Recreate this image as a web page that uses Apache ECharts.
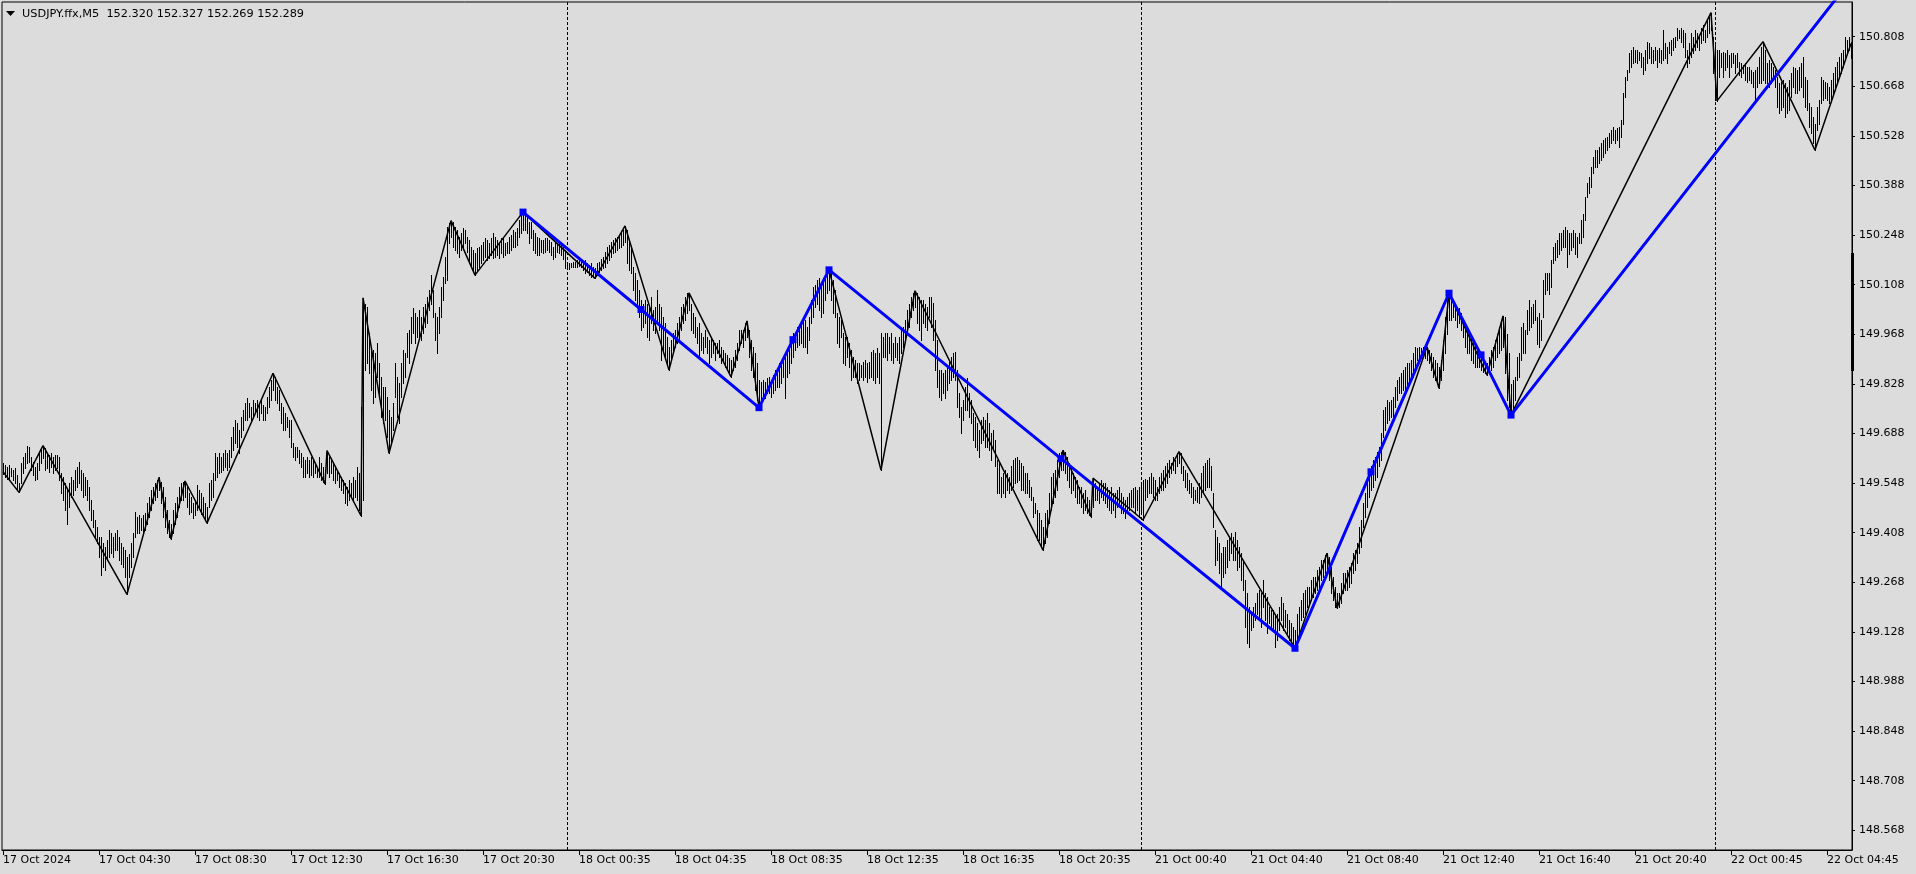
<!DOCTYPE html>
<html><head><meta charset="utf-8">
<script src="https://cdn.jsdelivr.net/npm/echarts@6/dist/echarts.min.js"></script>
<style>html,body{margin:0;padding:0;background:#DCDCDC;}#c{width:1916px;height:874px;}</style>
</head><body><div id="c"></div>
<script>
const symbolTitle = "USDJPY.ffx,M5";
const headerQuote = "152.320 152.327 152.269 152.289";
const timeLabels = ["17 Oct 2024","17 Oct 04:30","17 Oct 08:30","17 Oct 12:30","17 Oct 16:30","17 Oct 20:30",
  "18 Oct 00:35","18 Oct 04:35","18 Oct 08:35","18 Oct 12:35","18 Oct 16:35","18 Oct 20:35",
  "21 Oct 00:40","21 Oct 04:40","21 Oct 08:40","21 Oct 12:40","21 Oct 16:40","21 Oct 20:40",
  "22 Oct 00:45","22 Oct 04:45"];
const barsPerLabel = 48;
const priceTicks = [148.568,148.708,148.848,148.988,149.128,149.268,149.408,149.548,149.688,149.828,149.968,150.108,150.248,150.388,150.528,150.668,150.808];
const priceMin = 148.5125, priceMax = 150.906;
const daySeparators = [282, 569, 856];

const highs = [
149.604,149.598,149.594,149.599,149.590,149.585,149.590,149.570,149.548,149.604,
149.623,149.632,149.653,149.651,149.623,149.608,149.594,149.604,149.632,149.646,
149.654,149.646,149.632,149.627,149.632,149.623,149.627,149.627,149.623,149.576,
149.566,149.547,149.529,149.547,149.566,149.557,149.585,149.594,149.608,149.585,
149.576,149.566,149.557,149.538,149.500,149.472,149.444,149.425,149.397,149.397,
149.378,149.368,149.387,149.415,149.406,149.397,149.406,149.415,149.397,149.378,
149.368,149.359,149.340,149.349,149.378,149.406,149.467,149.453,149.458,149.449,
149.458,149.463,149.491,149.510,149.529,149.538,149.547,149.557,149.564,149.552,
149.538,149.510,149.472,149.444,149.434,149.472,149.491,149.510,149.538,149.547,
149.552,149.554,149.538,149.519,149.510,149.491,149.500,149.543,149.529,149.519,
149.510,149.491,149.482,149.547,149.557,149.576,149.632,149.623,149.632,149.623,
149.632,149.642,149.632,149.642,149.679,149.707,149.726,149.717,149.698,149.735,
149.754,149.773,149.787,149.773,149.764,149.782,149.773,149.782,149.773,149.782,
149.768,149.764,149.792,149.820,149.839,149.858,149.848,149.820,149.811,149.773,
149.764,149.745,149.735,149.726,149.726,149.660,149.651,149.651,149.642,149.632,
149.623,149.613,149.623,149.613,149.623,149.613,149.604,149.594,149.623,149.604,
149.594,149.585,149.640,149.623,149.613,149.604,149.594,149.585,149.576,149.566,
149.557,149.547,149.538,149.557,149.547,149.566,149.557,149.594,149.576,149.764,
150.071,150.055,150.046,149.971,149.933,149.924,149.914,149.943,149.886,149.848,
149.820,149.820,149.792,149.754,149.735,149.773,149.886,149.848,149.830,149.886,
149.924,149.914,149.971,149.980,150.018,150.041,150.027,150.018,150.036,150.018,
150.046,150.055,150.074,150.093,150.135,150.093,150.027,150.018,150.046,150.102,
150.131,150.187,150.272,150.281,150.289,150.286,150.272,150.262,150.244,150.253,
150.267,150.262,150.244,150.234,150.215,150.206,150.197,150.211,150.215,150.220,
150.230,150.239,150.234,150.225,150.239,150.253,150.244,150.234,150.230,150.239,
150.239,150.225,150.230,150.244,150.248,150.262,150.258,150.267,150.291,150.305,
150.313,150.310,150.300,150.286,150.286,150.262,150.253,150.244,150.239,150.234,
150.234,150.239,150.239,150.234,150.230,150.215,150.230,150.225,150.225,150.220,
150.215,150.206,150.173,150.168,150.170,150.173,150.173,150.178,150.180,150.178,
150.173,150.178,150.168,150.164,150.168,150.159,150.154,150.168,150.173,150.182,
150.187,150.201,150.215,150.220,150.230,150.234,150.239,150.244,150.248,150.253,
150.262,150.274,150.262,150.234,150.215,150.159,150.140,150.121,150.093,150.065,
150.055,150.065,150.055,150.046,150.074,150.036,150.046,150.093,150.055,150.046,
150.018,149.999,149.961,149.933,149.952,149.971,149.980,149.999,150.018,150.046,
150.055,150.074,150.084,150.085,150.055,150.027,150.018,149.990,149.999,149.971,
149.961,149.980,149.961,149.952,149.961,149.952,149.943,149.943,149.952,149.933,
149.924,149.914,149.910,149.900,149.896,149.905,149.924,149.943,149.980,149.980,
149.980,149.999,150.006,149.980,149.952,149.933,149.914,149.886,149.839,149.834,
149.839,149.834,149.844,149.848,149.839,149.853,149.867,149.872,149.886,149.896,
149.905,149.905,149.914,149.924,149.952,149.971,149.971,149.990,149.994,149.999,
150.004,150.008,149.990,150.018,150.065,150.102,150.107,150.121,150.126,150.102,
150.112,150.131,150.140,150.150,150.140,150.121,150.093,150.027,150.018,150.008,
149.971,149.961,149.961,149.943,149.924,149.905,149.896,149.886,149.886,149.881,
149.891,149.896,149.886,149.891,149.919,149.924,149.914,149.929,149.914,149.971,
149.961,149.971,149.971,149.961,149.971,149.943,149.961,149.943,149.961,149.980,
149.990,150.008,150.036,150.055,150.074,150.084,150.091,150.084,150.074,150.065,
150.065,150.055,150.046,150.074,150.074,150.056,150.008,149.952,149.867,149.867,
149.858,149.867,149.877,149.896,149.905,149.914,149.919,149.867,149.801,149.764,
149.783,149.820,149.844,149.801,149.783,149.745,149.736,149.717,149.698,149.726,
149.736,149.726,149.745,149.717,149.689,149.698,149.670,149.613,149.604,149.566,
149.576,149.585,149.576,149.566,149.595,149.613,149.618,149.623,149.613,149.604,
149.595,149.576,149.576,149.557,149.538,149.510,149.491,149.472,149.463,149.444,
149.425,149.463,149.472,149.519,149.566,149.576,149.585,149.613,149.632,149.637,
149.641,149.637,149.623,149.604,149.595,149.576,149.566,149.557,149.538,149.538,
149.519,149.529,149.510,149.500,149.491,149.562,149.547,149.538,149.547,149.557,
149.547,149.547,149.538,149.529,149.538,149.519,149.519,149.529,149.538,149.519,
149.510,149.500,149.510,149.519,149.529,149.533,149.538,149.529,149.538,149.552,
149.557,149.561,149.557,149.566,149.576,149.566,149.557,149.538,149.566,149.576,
149.585,149.595,149.604,149.613,149.604,149.623,149.613,149.632,149.637,149.632,
149.595,149.585,149.576,149.557,149.547,149.538,149.529,149.538,149.547,149.576,
149.595,149.604,149.613,149.618,149.595,149.519,149.416,149.397,149.378,149.350,
149.369,149.369,149.387,149.397,149.406,149.397,149.411,149.387,149.369,149.350,
149.331,149.275,149.237,149.199,149.180,149.199,149.209,149.237,149.246,149.237,
149.275,149.237,149.228,149.199,149.190,149.190,149.180,149.180,149.199,149.228,
149.209,149.190,149.180,149.162,149.152,149.143,149.133,149.180,149.199,149.218,
149.237,149.246,149.256,149.256,149.275,149.284,149.284,149.303,149.312,149.331,
149.331,149.345,149.350,149.340,149.312,149.284,149.256,149.237,149.237,149.265,
149.293,149.293,149.303,149.312,149.322,149.350,149.359,149.378,149.425,149.444,
149.491,149.519,149.557,149.576,149.595,149.613,149.623,149.637,149.651,149.689,
149.754,149.764,149.783,149.778,149.783,149.792,149.820,149.839,149.848,149.858,
149.867,149.877,149.886,149.886,149.895,149.914,149.933,149.928,149.933,149.930,
149.933,149.928,149.933,149.923,149.914,149.905,149.895,149.886,149.877,149.895,
149.952,150.018,150.065,150.088,150.074,150.065,150.055,150.046,150.041,150.027,
150.008,149.999,149.989,149.970,149.961,149.952,149.942,149.933,149.923,149.914,
149.905,149.891,149.886,149.905,149.923,149.933,149.952,149.970,149.989,150.008,
150.020,150.018,149.970,149.914,149.829,149.839,149.848,149.905,149.914,149.989,
149.999,149.980,150.036,150.065,150.046,150.055,150.065,150.018,150.027,150.008,
150.121,150.140,150.140,150.140,150.178,150.215,150.225,150.234,150.253,150.253,
150.262,150.272,150.262,150.253,150.253,150.262,150.253,150.244,150.253,150.290,
150.309,150.356,150.394,150.413,150.441,150.469,150.488,150.488,150.498,150.507,
150.516,150.521,150.526,150.535,150.545,150.554,150.545,150.549,150.554,150.573,
150.648,150.695,150.714,150.761,150.770,150.780,150.770,150.770,150.766,150.761,
150.752,150.770,150.794,150.789,150.780,150.770,150.780,150.770,150.775,150.770,
150.827,150.789,150.780,150.794,150.799,150.803,150.808,150.832,150.827,150.832,
150.827,150.818,150.770,150.789,150.818,150.808,150.827,150.818,150.808,150.832,
150.841,150.827,150.855,150.865,150.876,150.808,150.789,150.770,150.770,150.761,
150.766,150.761,150.770,150.756,150.761,150.761,150.756,150.761,150.737,150.733,
150.728,150.733,150.723,150.723,150.714,150.709,150.714,150.723,150.752,150.780,
150.794,150.770,150.733,150.742,150.733,150.723,150.714,150.695,150.676,150.681,
150.686,150.676,150.667,150.686,150.705,150.723,150.719,150.714,150.723,150.733,
150.752,150.695,150.686,150.620,150.610,150.582,150.563,150.610,150.629,150.695,
150.686,150.681,150.676,150.667,150.686,150.705,150.723,150.737,150.752,150.761,
150.770,150.808,150.799,150.808,150.794
];
const lows = [
149.575,149.566,149.560,149.557,149.567,149.557,149.548,149.530,149.522,149.547,
149.576,149.590,149.604,149.608,149.585,149.571,149.557,149.561,149.585,149.604,
149.618,149.585,149.590,149.580,149.594,149.576,149.585,149.590,149.557,149.519,
149.500,149.472,149.434,149.482,149.510,149.514,149.529,149.538,149.547,149.529,
149.510,149.514,149.500,149.472,149.444,149.425,149.397,149.378,149.340,149.289,
149.312,149.303,149.331,149.340,149.350,149.340,149.359,149.359,149.331,149.321,
149.312,149.284,149.234,149.284,149.312,149.340,149.397,149.406,149.406,149.415,
149.411,149.415,149.434,149.453,149.472,149.491,149.500,149.510,149.529,149.491,
149.453,149.425,149.406,149.397,149.390,149.406,149.434,149.453,149.482,149.500,
149.500,149.510,149.482,149.462,149.467,149.449,149.458,149.472,149.477,149.462,
149.458,149.444,149.435,149.482,149.500,149.510,149.557,149.566,149.576,149.580,
149.585,149.594,149.585,149.594,149.623,149.642,149.660,149.651,149.632,149.679,
149.698,149.726,149.726,149.735,149.726,149.735,149.745,149.735,149.726,149.745,
149.726,149.726,149.745,149.764,149.782,149.811,149.783,149.773,149.754,149.717,
149.698,149.698,149.707,149.679,149.651,149.623,149.613,149.623,149.604,149.594,
149.566,149.566,149.576,149.566,149.571,149.566,149.576,149.566,149.566,149.557,
149.552,149.546,149.576,149.566,149.576,149.557,149.547,149.557,149.538,149.529,
149.519,149.491,149.486,149.500,149.510,149.500,149.510,149.500,149.472,149.456,
149.500,149.867,149.886,149.858,149.811,149.773,149.792,149.848,149.792,149.736,
149.717,149.726,149.679,149.632,149.660,149.698,149.792,149.735,149.717,149.792,
149.830,149.848,149.905,149.886,149.943,149.971,149.943,149.961,149.961,149.952,
149.971,149.990,149.999,150.036,150.055,150.018,149.952,149.914,149.971,150.018,
150.065,150.112,150.121,150.225,150.244,150.215,150.206,150.197,150.187,150.206,
150.215,150.225,150.201,150.178,150.159,150.150,150.135,150.150,150.159,150.168,
150.178,150.187,150.178,150.183,150.192,150.183,150.187,150.192,150.183,150.197,
150.187,150.192,150.197,150.197,150.206,150.215,150.215,150.220,150.244,150.253,
150.262,150.262,150.253,150.225,150.239,150.206,150.197,150.192,150.192,150.201,
150.197,150.201,150.206,150.201,150.192,150.182,150.187,150.201,150.197,150.192,
150.182,150.154,150.154,150.151,150.157,150.159,150.157,150.157,150.161,150.157,
150.150,150.140,150.145,150.135,150.131,150.131,150.126,150.135,150.145,150.150,
150.154,150.159,150.168,150.178,150.187,150.197,150.201,150.206,150.211,150.215,
150.220,150.230,150.168,150.150,150.140,150.093,150.065,150.055,150.018,149.980,
149.990,149.999,149.961,149.952,149.999,149.980,149.971,149.999,149.980,149.896,
149.924,149.905,149.886,149.867,149.896,149.914,149.933,149.943,149.952,149.980,
149.999,150.008,150.027,150.036,149.980,149.971,149.961,149.943,149.905,149.924,
149.914,149.933,149.914,149.886,149.905,149.914,149.896,149.914,149.905,149.886,
149.891,149.877,149.867,149.863,149.848,149.867,149.877,149.896,149.924,149.943,
149.933,149.952,149.961,149.905,149.867,149.848,149.811,149.783,149.761,149.773,
149.792,149.787,149.801,149.801,149.792,149.801,149.811,149.820,149.820,149.830,
149.848,149.787,149.848,149.858,149.886,149.905,149.924,149.933,149.938,149.943,
149.933,149.933,149.914,149.952,149.999,150.018,150.046,150.055,150.036,150.018,
150.027,150.065,150.084,150.093,150.065,150.027,150.018,149.943,149.933,149.961,
149.886,149.881,149.905,149.877,149.839,149.848,149.848,149.830,149.839,149.848,
149.839,149.848,149.834,149.844,149.848,149.839,149.830,149.848,149.830,149.585,
149.905,149.905,149.896,149.914,149.896,149.886,149.905,149.896,149.886,149.914,
149.933,149.952,149.971,149.990,150.018,150.036,150.046,149.999,149.980,149.952,
149.999,149.990,149.980,150.018,149.990,149.952,149.867,149.820,149.792,149.783,
149.801,149.787,149.811,149.830,149.839,149.848,149.839,149.764,149.736,149.689,
149.726,149.754,149.754,149.736,149.717,149.670,149.651,149.642,149.623,149.660,
149.670,149.651,149.651,149.642,149.613,149.642,149.595,149.519,149.519,149.510,
149.519,149.510,149.529,149.519,149.529,149.538,149.548,149.552,149.557,149.529,
149.529,149.519,149.519,149.510,149.500,149.453,149.463,149.387,149.387,149.369,
149.359,149.378,149.397,149.435,149.472,149.491,149.510,149.529,149.566,149.585,
149.585,149.576,149.557,149.538,149.519,149.529,149.510,149.491,149.491,149.482,
149.463,149.472,149.463,149.458,149.453,149.482,149.500,149.500,149.491,149.510,
149.500,149.491,149.482,149.472,149.463,149.472,149.453,149.482,149.482,149.463,
149.463,149.449,149.463,149.472,149.482,149.482,149.463,149.472,149.453,149.463,
149.444,149.500,149.510,149.519,149.519,149.510,149.500,149.500,149.519,149.529,
149.529,149.538,149.548,149.566,149.576,149.585,149.576,149.595,149.604,149.576,
149.557,149.538,149.529,149.519,149.510,149.491,149.500,149.496,149.491,149.510,
149.519,149.529,149.538,149.538,149.529,149.425,149.317,149.331,149.293,149.256,
149.284,149.293,149.312,149.331,149.350,149.331,149.331,149.303,149.312,149.275,
149.246,149.143,149.096,149.086,149.133,149.143,149.162,149.180,149.171,149.143,
149.199,149.162,149.124,149.152,149.143,149.133,149.086,149.105,149.133,149.162,
149.133,149.143,149.124,149.105,149.096,149.086,149.082,149.105,149.124,149.162,
149.171,149.180,149.199,149.209,149.218,149.228,149.237,149.246,149.246,149.275,
149.284,149.293,149.303,149.275,149.237,149.218,149.199,149.195,149.199,149.209,
149.237,149.246,149.246,149.256,149.265,149.293,149.303,149.322,149.350,149.369,
149.425,149.453,149.482,149.510,149.529,149.538,149.557,149.566,149.595,149.613,
149.679,149.698,149.717,149.726,149.736,149.726,149.764,149.783,149.801,149.801,
149.811,149.811,149.820,149.830,149.839,149.848,149.877,149.895,149.895,149.905,
149.905,149.900,149.895,149.886,149.867,149.848,149.839,149.830,149.816,149.839,
149.867,149.914,149.970,150.008,150.008,150.018,150.008,149.989,149.999,149.980,
149.961,149.933,149.914,149.914,149.895,149.886,149.877,149.877,149.877,149.867,
149.862,149.858,149.853,149.858,149.867,149.877,149.895,149.905,149.914,149.924,
149.933,149.858,149.782,149.764,149.740,149.754,149.782,149.839,149.848,149.895,
149.914,149.914,149.970,149.980,149.989,149.999,150.008,149.942,149.933,149.952,
150.018,150.083,150.093,150.083,150.102,150.168,150.178,150.187,150.196,150.206,
150.215,150.215,150.159,150.196,150.206,150.215,150.196,150.187,150.225,150.225,
150.243,150.290,150.356,150.366,150.385,150.422,150.441,150.441,150.451,150.460,
150.469,150.479,150.488,150.498,150.507,150.516,150.507,150.516,150.498,150.526,
150.563,150.639,150.686,150.709,150.723,150.733,150.737,150.733,150.742,150.723,
150.704,150.714,150.733,150.747,150.733,150.733,150.742,150.723,150.737,150.733,
150.742,150.747,150.733,150.761,150.756,150.770,150.780,150.799,150.803,150.794,
150.780,150.752,150.723,150.733,150.752,150.761,150.770,150.780,150.770,150.789,
150.799,150.794,150.808,150.818,150.827,150.705,150.629,150.627,150.695,150.723,
150.695,150.714,150.723,150.695,150.723,150.733,150.705,150.723,150.700,150.695,
150.705,150.686,150.681,150.686,150.676,150.667,150.629,150.667,150.676,150.676,
150.686,150.676,150.676,150.667,150.676,150.686,150.667,150.610,150.592,150.601,
150.610,150.582,150.592,150.601,150.639,150.667,150.648,150.648,150.657,150.667,
150.639,150.610,150.601,150.554,150.535,150.507,150.488,150.545,150.563,150.620,
150.629,150.634,150.629,150.620,150.629,150.648,150.657,150.676,150.695,150.705,
150.723,150.752,150.761,150.770,150.747
];

// ZigZag swing points: [bar index, price]
const zigzagBlack = [[0,149.580],[8,149.522],[20,149.654],[62,149.234],[78,149.564],[84,149.390],[91,149.554],
  [102,149.435],[135,149.858],[161,149.546],[162,149.640],[179,149.456],[180,150.071],[193,149.632],[224,150.289],
  [236,150.135],[260,150.313],[296,150.126],[311,150.274],[333,149.867],[343,150.085],[364,149.848],[372,150.006],
  [378,149.761],[413,150.150],[439,149.585],[456,150.091],[520,149.359],[530,149.641],[544,149.453],[545,149.562],
  [570,149.444],[588,149.637],[646,149.082],[662,149.350],[667,149.195],[712,149.933],[718,149.816],[723,150.084],
  [742,149.853],[750,150.020],[754,149.740],[854,150.876],[857,150.627],[880,150.794],[906,150.488],[924,150.789]];
const zigzagBlue = [[260,150.313],[319,150.038],[378,149.761],[395,149.953],[413,150.150],[529,149.617],
  [646,149.082],[684,149.580],[723,150.084],[739,149.910],[754,149.740],[924,150.969]];

const FONT = '"DejaVu Sans", Verdana, sans-serif';
const cats = highs.map((_, i) => String(i));
const barData = highs.map((h, i) => [i, h, lows[i]]);

const chart = echarts.init(document.getElementById('c'), null, {renderer: 'canvas'});
chart.setOption({
  animation: false,
  backgroundColor: '#DCDCDC',
  grid: {left: 2, right: 64, top: 2, bottom: 24, show: true, borderColor: '#000', borderWidth: 1, backgroundColor: 'transparent'},
  xAxis: {
    type: 'category', data: cats, boundaryGap: true,
    axisLine: {show: true, lineStyle: {color: '#000', width: 1}},
    axisTick: {show: true, alignWithLabel: true, length: 5, interval: (i) => i % barsPerLabel === 0, lineStyle: {color: '#000'}},
    axisLabel: {interval: (i) => i % barsPerLabel === 0, formatter: (v, i) => timeLabels[Math.round(i / barsPerLabel)] || '',
      align: 'left', margin: 5, color: '#000', fontFamily: FONT, fontSize: 11},
    splitLine: {show: false}
  },
  yAxis: {
    type: 'value', position: 'right', min: priceMin, max: priceMax, scale: true,
    axisLine: {show: true, lineStyle: {color: '#000', width: 1}},
    axisTick: {show: true, length: 3, customValues: priceTicks, lineStyle: {color: '#000'}},
    axisLabel: {customValues: priceTicks, formatter: (v) => v.toFixed(3), color: '#000', fontFamily: FONT, fontSize: 11, margin: 7},
    splitLine: {show: false}
  },
  series: [
    {
      type: 'custom', data: barData, encode: {x: 0, y: [1, 2]}, z: 2, clip: true,
      renderItem: function (params, api) {
        const i = api.value(0);
        const top = api.coord([i, api.value(1)]);
        const bot = api.coord([i, api.value(2)]);
        const x = Math.round(top[0]) + 0.5;
        return {type: 'line', shape: {x1: x, y1: Math.round(top[1]), x2: x, y2: Math.round(bot[1]) + 1},
          style: {stroke: '#000', lineWidth: 1}};
      }
    },
    {
      type: 'line', data: zigzagBlack, symbol: 'none', z: 3, clip: true,
      lineStyle: {color: '#000', width: 1.5},
      markLine: {silent: true, symbol: 'none', label: {show: false},
        lineStyle: {color: '#000', width: 1, type: [3, 2]},
        data: daySeparators.map(d => ({xAxis: d}))}
    },
    {
      type: 'line', z: 4, clip: true,
      data: zigzagBlue.map((p, k) => k === zigzagBlue.length - 1 ? {value: p, symbol: 'none'} : p),
      symbol: 'rect', symbolSize: 7, showSymbol: true, showAllSymbol: true,
      itemStyle: {color: '#0000FF'},
      lineStyle: {color: '#0000FF', width: 3}
    }
  ],
  graphic: [
    {type: 'polygon', z: 100, shape: {points: [[6, 11], [15, 11], [10.5, 16]]}, style: {fill: '#000'}},
    {type: 'text', z: 100, x: 22, y: 14, style: {text: symbolTitle + '  ' + headerQuote, font: '11.3px ' + FONT, fill: '#000', verticalAlign: 'middle'}},
    {type: 'rect', z: 100, shape: {x: 1851, y: 253, width: 3, height: 118}, style: {fill: '#000'}}
  ]
});
</script>
</body></html>
